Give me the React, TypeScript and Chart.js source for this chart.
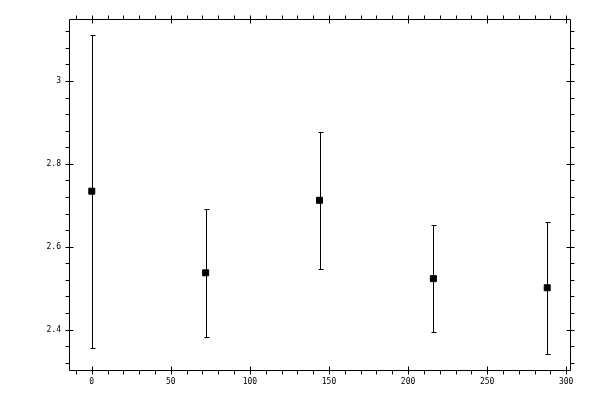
import React, { useEffect, useRef } from "react";
import { Chart, registerables } from "chart.js";

Chart.register(...registerables);

// ---- data ----
const xValues = [0, 72, 144, 216, 288];
const yValues = [2.734, 2.537, 2.712, 2.523, 2.501];
const yLow = [2.356, 2.382, 2.547, 2.394, 2.341];
const yHigh = [3.111, 2.692, 2.876, 2.652, 2.66];
const xRange = [-14.4, 302.4];
const yRange = [2.3025, 3.1495];
const xMajorStep = 50;
const yMajorStep = 0.2;
const xMinorStep = 10;
const yMinorStep = 0.04;

const frameAndErrorBars = {
  id: "frameAndErrorBars",
  beforeDatasetsDraw(chart: any) {
    const ctx = chart.ctx;
    const xs = chart.scales.x;
    const ys = chart.scales.y;
    ctx.save();
    ctx.strokeStyle = "#000";
    ctx.lineWidth = 1;
    ctx.beginPath();
    for (let i = 0; i < xValues.length; i++) {
      const px = Math.round(xs.getPixelForValue(xValues[i])) + 0.5;
      const top = Math.round(ys.getPixelForValue(yHigh[i])) + 0.5;
      const bot = Math.round(ys.getPixelForValue(yLow[i])) + 0.5;
      ctx.moveTo(px, top);
      ctx.lineTo(px, bot);
      ctx.moveTo(px - 2, top);
      ctx.lineTo(px + 3, top);
      ctx.moveTo(px - 2, bot);
      ctx.lineTo(px + 3, bot);
    }
    ctx.stroke();
    ctx.restore();
  },
  afterDraw(chart: any) {
    const ctx = chart.ctx;
    const xs = chart.scales.x;
    const ys = chart.scales.y;
    const { left, right, top, bottom } = chart.chartArea;
    const L = left + 0.5, R = right + 0.5, T = top + 0.5, B = bottom + 0.5;
    ctx.save();
    ctx.strokeStyle = "#000";
    ctx.lineWidth = 1;
    ctx.beginPath();
    ctx.rect(L, T, R - L, B - T);
    const isMajor = (v: number, step: number) =>
      Math.abs(v / step - Math.round(v / step)) < 1e-6;
    // x ticks
    for (let k = Math.ceil(xRange[0] / xMinorStep); k * xMinorStep <= xRange[1] + 1e-9; k++) {
      const v = k * xMinorStep;
      const px = Math.round(xs.getPixelForValue(v)) + 0.5;
      const major = isMajor(v, xMajorStep);
      ctx.moveTo(px, B + 4);
      ctx.lineTo(px, major ? B - 4 : B);
      ctx.moveTo(px, T - 4);
      ctx.lineTo(px, major ? T + 4 : T);
    }
    // y ticks
    for (let k = Math.ceil(yRange[0] / yMinorStep - 1e-9); k * yMinorStep <= yRange[1] + 1e-9; k++) {
      const v = k * yMinorStep;
      const py = Math.round(ys.getPixelForValue(v)) + 0.5;
      const major = isMajor(v, yMajorStep);
      ctx.moveTo(L - 4, py);
      ctx.lineTo(major ? L + 4 : L, py);
      ctx.moveTo(R + 4, py);
      ctx.lineTo(major ? R - 4 : R, py);
    }
    ctx.stroke();
    ctx.restore();
  },
};

export default function App() {
  const ref = useRef<HTMLCanvasElement | null>(null);
  useEffect(() => {
    if (!ref.current) return;
    const font = { family: "'DejaVu Sans Mono', monospace", size: 8 };
    const chart = new Chart(ref.current, {
      type: "scatter",
      data: {
        datasets: [
          {
            data: xValues.map((x, i) => ({ x, y: yValues[i] })),
            pointStyle: "rect",
            pointRadius: 4.25,
            pointHoverRadius: 4.25,
            backgroundColor: "#000",
            borderColor: "#000",
            borderWidth: 1,
            showLine: false,
          } as any,
        ],
      },
      options: {
        animation: false,
        responsive: true,
        maintainAspectRatio: false,
        layout: { padding: { top: 19, right: 30, left: 0, bottom: 0 } },
        plugins: { legend: { display: false }, tooltip: { enabled: false } },
        events: [],
        scales: {
          x: {
            type: "linear",
            min: xRange[0],
            max: xRange[1],
            grid: { display: false, drawTicks: false },
            border: { display: false },
            ticks: {
              stepSize: xMajorStep,
              includeBounds: false,
              autoSkip: false,
              maxRotation: 0,
              color: "#000",
              font,
              padding: 7,
              callback: (v: any) => String(Math.round(Number(v))),
            },
            afterFit: (s: any) => {
              s.height = 30;
            },
          },
          y: {
            type: "linear",
            min: yRange[0],
            max: yRange[1],
            grid: { display: false, drawTicks: false },
            border: { display: false },
            ticks: {
              stepSize: yMajorStep,
              includeBounds: false,
              autoSkip: false,
              color: "#000",
              font,
              padding: 8,
              callback: (v: any) => String(Math.round(Number(v) * 10) / 10),
            },
            afterFit: (s: any) => {
              s.width = 69;
            },
          },
        },
      },
      plugins: [frameAndErrorBars],
    });
    return () => chart.destroy();
  }, []);
  return (
    <div style={{ position: "fixed", left: 0, top: 0, width: 600, height: 400, background: "#fff" }}>
      <canvas ref={ref} />
    </div>
  );
}
